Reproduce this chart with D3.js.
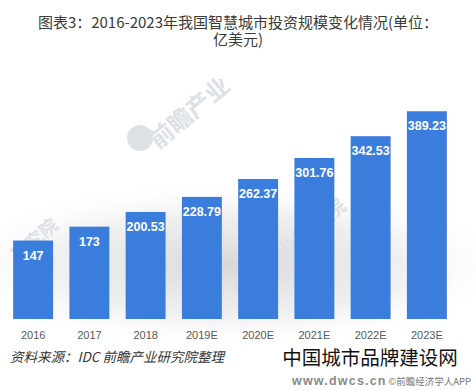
<!DOCTYPE html>
<html><head><meta charset="utf-8">
<script src="https://cdn.jsdelivr.net/npm/d3@7"></script>
<style>
body{margin:0;background:#fff;position:relative;width:476px;height:390px;overflow:hidden}
svg{display:block;position:absolute;left:0;top:0}
#title{position:absolute;left:0;top:13px;width:476px;text-align:center;font-family:'Noto Sans CJK SC',sans-serif;font-size:15px;line-height:17px;color:#3a3a3a;z-index:2}
</style>
</head><body>
<script>
const categories = ["2016","2017","2018","2019E","2020E","2021E","2022E","2023E"];
const values = [147,173,200.53,228.79,262.37,301.76,342.53,389.23];
const valueLabels = ["147","173","200.53","228.79","262.37","301.76","342.53","389.23"];
const titleLines = ["图表3：2016-2023年我国智慧城市投资规模变化情况(单位：","亿美元)"];
const sourceText = "资料来源：IDC 前瞻产业研究院整理";

const W = 476, H = 390;
const svg = d3.select("body").append("svg").attr("width", W).attr("height", H);

// title as one wrapped block
const title = d3.select("body").append("div").attr("id","title");
titleLines.forEach((t,i) => {
  if (i > 0) title.append("br");
  title.append("span").text(t);
});

const defs = svg.append("defs");
const g1 = defs.append("radialGradient").attr("id","shadow").attr("cx","50%").attr("cy","50%").attr("r","50%");
g1.append("stop").attr("offset","0%").attr("stop-color","#d4d4d4").attr("stop-opacity",0.9);
g1.append("stop").attr("offset","60%").attr("stop-color","#e6e6e6").attr("stop-opacity",0.6);
g1.append("stop").attr("offset","100%").attr("stop-color","#ffffff").attr("stop-opacity",0);
svg.append("ellipse").attr("cx",230).attr("cy",265).attr("rx",290).attr("ry",85).attr("fill","url(#shadow)");

const x = d3.scaleBand().domain(categories).range([5, 455]).paddingInner(0.29).paddingOuter(0.145);
const y = d3.scaleLinear().domain([0, 400]).range([319, 105.5]);

// faint watermarks
const wm = svg.append("g").attr("fill","#dde1e6").attr("font-family","'Noto Sans CJK SC', sans-serif").attr("font-weight","bold");
wm.append("circle").attr("cx",140).attr("cy",138).attr("r",13).attr("fill","#dde1e6");
wm.append("text").attr("transform","translate(158,150) rotate(-40)").attr("font-size",24).text("前瞻产业");
wm.append("text").attr("transform","translate(240,298) rotate(-40)").attr("font-size",20).text("前瞻产业研究院");
wm.append("text").attr("transform","translate(18,262) rotate(-40)").attr("font-size",18).text("研究院");

// bars
svg.append("g").selectAll("rect").data(values).join("rect")
  .attr("x", (d,i) => x(categories[i]))
  .attr("width", x.bandwidth())
  .attr("y", d => y(d))
  .attr("height", d => y(0) - y(d))
  .attr("fill", "#3b7ddd");

// value labels
svg.append("g").selectAll("text").data(values).join("text")
  .attr("x", (d,i) => x(categories[i]) + x.bandwidth()/2)
  .attr("y", d => y(d) + 19)
  .attr("text-anchor","middle")
  .attr("font-family","'Liberation Sans', Arial, sans-serif")
  .attr("font-weight","bold").attr("font-size", 12.5).attr("fill","#ffffff")
  .text((d,i) => valueLabels[i]);

// x axis
const xAxis = svg.append("g").attr("transform","translate(0,319)")
  .call(d3.axisBottom(x).tickSize(0).tickPadding(12.5));
xAxis.select(".domain").remove();
xAxis.selectAll("text").attr("font-family","'Liberation Sans', Arial, sans-serif")
  .attr("font-size", 11).attr("fill","#595959");

// source
svg.append("text").attr("x", 10).attr("y", 362)
  .attr("font-family","'Noto Sans CJK SC', sans-serif").attr("font-style","italic")
  .attr("font-size", 13.5).attr("fill","#333")
  .text(sourceText);

// site watermark bottom right
svg.append("text").attr("x", 370).attr("y", 365).attr("text-anchor","middle")
  .attr("font-family","'Noto Sans CJK SC', sans-serif").attr("font-size", 19.5).attr("fill","#111")
  .text("中国城市品牌建设网");
svg.append("text").attr("x", 292).attr("y", 385)
  .attr("font-family","'Liberation Sans', Arial, sans-serif").attr("font-weight","bold").attr("font-size", 12.5)
  .attr("fill","#8a8a8a").attr("letter-spacing", 1.2)
  .text("www.dwcs.cn");
svg.append("text").attr("x", 471).attr("y", 385).attr("text-anchor","end")
  .attr("font-family","'Noto Sans CJK SC', sans-serif").attr("font-size", 9.5).attr("fill","#777")
  .text("©前瞻经济学人APP");
</script>
</body></html>
